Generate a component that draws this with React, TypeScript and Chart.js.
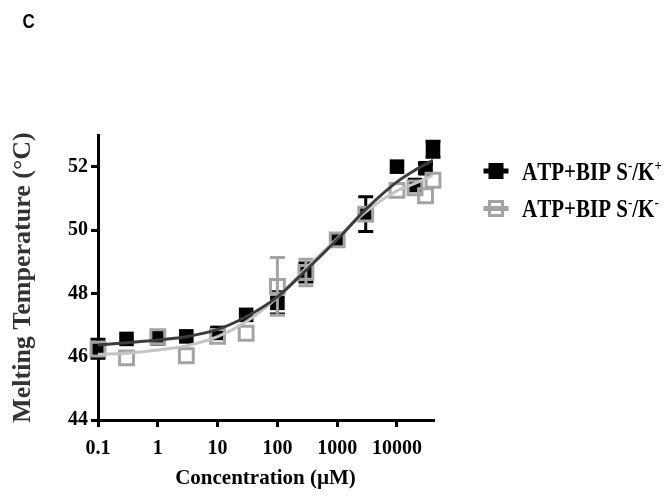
import React, { useEffect, useRef } from "react";
import { Chart, registerables } from "chart.js";

Chart.register(...registerables);

// ---- data ----
const CONC = [0.1, 0.3, 1, 3, 10, 30, 100, 300, 1000, 3000, 10000, 20000, 30000, 40000];
const TM_KPLUS = [46.25, 46.56, 46.58, 46.64, 46.75, 47.32, 47.7, 48.66, 49.69, 50.5, 52.0, 51.42, 51.95, 52.55];
const ERR_KPLUS = [0.3, 0, 0, 0, 0.15, 0, 0.35, 0.3, 0, 0.55, 0, 0, 0.15, 0.25];
const TM_KMINUS = [46.24, 45.96, 46.63, 46.03, 46.64, 46.74, 48.22, 48.66, 49.69, 50.5, 51.25, 51.33, 51.08, 51.57];
const ERR_KMINUS = [0, 0, 0, 0, 0, 0, 0.91, 0.42, 0, 0, 0, 0, 0, 0];

const FIT_X = [0.1, 0.3, 1, 3, 10, 30, 100, 300, 1000, 3000, 10000, 20000, 40000];
const FIT_KPLUS = [46.37, 46.44, 46.53, 46.63, 46.86, 47.26, 47.89, 48.73, 49.7, 50.65, 51.52, 51.89, 52.2];
const FIT_KMINUS = [46.08, 46.11, 46.21, 46.34, 46.63, 47.1, 47.87, 48.79, 49.73, 50.57, 51.24, 51.47, 51.73];

const X_TICKS = [0.1, 1, 10, 100, 1000, 10000];
const Y_TICKS = [44, 46, 48, 50, 52];

const LABEL_KPLUS = "ATP+BIP S⁻/K⁺";
const LABEL_KMINUS = "ATP+BIP S⁻/K⁻";
const PANEL_LETTER = "C";
const X_TITLE = "Concentration (µM)";
const Y_TITLE = "Melting Temperature (°C)";

const BLACK = "#000000";
const GRAY = "#a3a3a3";
const FIT_DARK = "#3d3d3d";
const FIT_LIGHT = "#c4c4c4";
const SERIF = '"Liberation Serif", "Times New Roman", serif';

const errorBarPlugin = {
  id: "errorBars",
  beforeDatasetDraw(chart: any, args: any) {
    const ds = chart.data.datasets[args.index];
    if (!ds.errors) return;
    const { ctx } = chart;
    const x = chart.scales.x;
    const y = chart.scales.y;
    ctx.save();
    ctx.strokeStyle = ds.errorColor;
    ctx.lineWidth = 3;
    ds.data.forEach((p: any, i: number) => {
      const e = ds.errors[i];
      if (!e) return;
      const px = x.getPixelForValue(p.x);
      const yt = y.getPixelForValue(p.y + e);
      const yb = y.getPixelForValue(p.y - e);
      ctx.beginPath();
      ctx.moveTo(px, yt);
      ctx.lineTo(px, yb);
      ctx.moveTo(px - 7.5, yt);
      ctx.lineTo(px + 7.5, yt);
      ctx.moveTo(px - 7.5, yb);
      ctx.lineTo(px + 7.5, yb);
      ctx.stroke();
    });
    ctx.restore();
  },
};

function drawRichLabel(ctx: CanvasRenderingContext2D, text: string, x: number, y: number, size: number) {
  const sup: Record<string, string> = { "⁻": "-", "⁺": "+" };
  let cx = x;
  for (const ch of Array.from(text)) {
    if (sup[ch]) {
      ctx.font = `bold ${Math.round(size * 0.62)}px ${SERIF}`;
      ctx.fillText(sup[ch], cx, y - size * 0.42);
      cx += ctx.measureText(sup[ch]).width;
    } else {
      ctx.font = `bold ${size}px ${SERIF}`;
      ctx.fillText(ch, cx, y);
      cx += ctx.measureText(ch).width;
    }
  }
}

const legendPlugin = {
  id: "customLegend",
  afterDraw(chart: any) {
    const { ctx } = chart;
    ctx.save();
    // panel letter
    ctx.fillStyle = "#000";
    ctx.textBaseline = "alphabetic";
    ctx.save();
    ctx.translate(14.5, 20.3);
    ctx.scale(1, 1.15);
    ctx.font = 'bold 17px "Liberation Sans", Arial, sans-serif';
    ctx.fillText(PANEL_LETTER, 0, 0);
    ctx.restore();

    const items = [
      { label: chart.data.datasets[3].label, filled: true, color: BLACK, cy: 163, base: 172 },
      { label: chart.data.datasets[2].label, filled: false, color: GRAY, cy: 200.5, base: 209 },
    ];
    items.forEach((it) => {
      const cx = 488;
      ctx.fillStyle = it.color;
      ctx.strokeStyle = it.color;
      ctx.fillRect(cx - 12.5, it.cy - 2.5, 25, 5);
      if (it.filled) {
        ctx.fillRect(cx - 7.5, it.cy - 8, 15, 16);
      } else {
        ctx.lineWidth = 3;
        ctx.strokeRect(cx - 6.5, it.cy - 7, 13, 14);
      }
      ctx.fillStyle = "#000";
      ctx.save();
      ctx.translate(514, it.base);
      ctx.scale(1, 1.15);
      drawRichLabel(ctx, it.label, 0, 0, 21);
      ctx.restore();
    });
    ctx.restore();
  },
};

export default function App() {
  const canvasRef = useRef<HTMLCanvasElement | null>(null);

  useEffect(() => {
    if (!canvasRef.current) return;
    const pts = (xs: number[], ys: number[]) => xs.map((v, i) => ({ x: v, y: ys[i] }));
    const chart = new Chart(canvasRef.current, {
      type: "scatter",
      data: {
        datasets: [
          {
            label: "fit K+",
            data: pts(FIT_X, FIT_KPLUS),
            showLine: true,
            borderColor: FIT_DARK,
            borderWidth: 3,
            pointRadius: 0,
            cubicInterpolationMode: "monotone",
          } as any,
          {
            label: "fit K-",
            data: pts(FIT_X, FIT_KMINUS),
            showLine: true,
            borderColor: FIT_LIGHT,
            borderWidth: 3,
            pointRadius: 0,
            cubicInterpolationMode: "monotone",
          } as any,
          {
            label: LABEL_KMINUS,
            data: pts(CONC, TM_KMINUS),
            errors: ERR_KMINUS,
            errorColor: GRAY,
            pointStyle: "rect",
            pointRadius: 9.8,
            borderWidth: 3,
            borderColor: GRAY,
            backgroundColor: "rgba(0,0,0,0)",
            clip: false,
          } as any,
          {
            label: LABEL_KPLUS,
            data: pts(CONC, TM_KPLUS),
            errors: ERR_KPLUS,
            errorColor: BLACK,
            pointStyle: "rect",
            pointRadius: 10.3,
            borderWidth: 0,
            borderColor: BLACK,
            backgroundColor: BLACK,
            clip: false,
          } as any,
        ],
      },
      options: {
        animation: false,
        responsive: true,
        maintainAspectRatio: false,
        events: [],
        layout: { padding: { top: 127, right: 229, left: 0, bottom: 0 } },
        plugins: {
          legend: { display: false },
          tooltip: { enabled: false },
        },
        scales: {
          x: {
            type: "logarithmic",
            min: 0.1,
            max: 40000,
            afterBuildTicks: (s: any) => {
              s.ticks = X_TICKS.map((v) => ({ value: v }));
            },
            afterFit: (s: any) => {
              s.height = 71;
            },
            border: { display: true, color: "#000", width: 3 },
            grid: { display: true, drawOnChartArea: false, drawTicks: true, tickLength: 7, color: "#000", lineWidth: 3 },
            ticks: {
              autoSkip: false,
              maxRotation: 0,
              padding: 10,
              color: "#000",
              font: { family: SERIF, size: 20, weight: "bold" },
              callback: (v: any) => String(v),
            },
            title: {
              display: true,
              text: X_TITLE,
              color: "#000",
              font: { family: SERIF, size: 21, weight: "bold" },
              padding: { top: 0, bottom: 0 },
            },
          },
          y: {
            type: "linear",
            min: 44,
            max: 53,
            afterBuildTicks: (s: any) => {
              s.ticks = Y_TICKS.map((v) => ({ value: v }));
            },
            afterFit: (s: any) => {
              s.width = 90;
            },
            border: { display: true, color: "#000", width: 3 },
            grid: { display: true, drawOnChartArea: false, drawTicks: true, tickLength: 7, color: "#000", lineWidth: 3 },
            ticks: {
              padding: 3,
              color: "#000",
              font: { family: SERIF, size: 20, weight: "bold" },
              callback: (v: any) => String(v),
            },
            title: {
              display: true,
              text: Y_TITLE,
              color: "#333",
              font: { family: SERIF, size: 26, weight: "bold" },
              padding: { top: 0, bottom: 0 },
            },
          },
        },
      } as any,
      plugins: [errorBarPlugin, legendPlugin],
    });
    return () => chart.destroy();
  }, []);

  return (
    <div style={{ width: 654, height: 483, position: "relative" }}>
      <canvas ref={canvasRef} />
    </div>
  );
}
